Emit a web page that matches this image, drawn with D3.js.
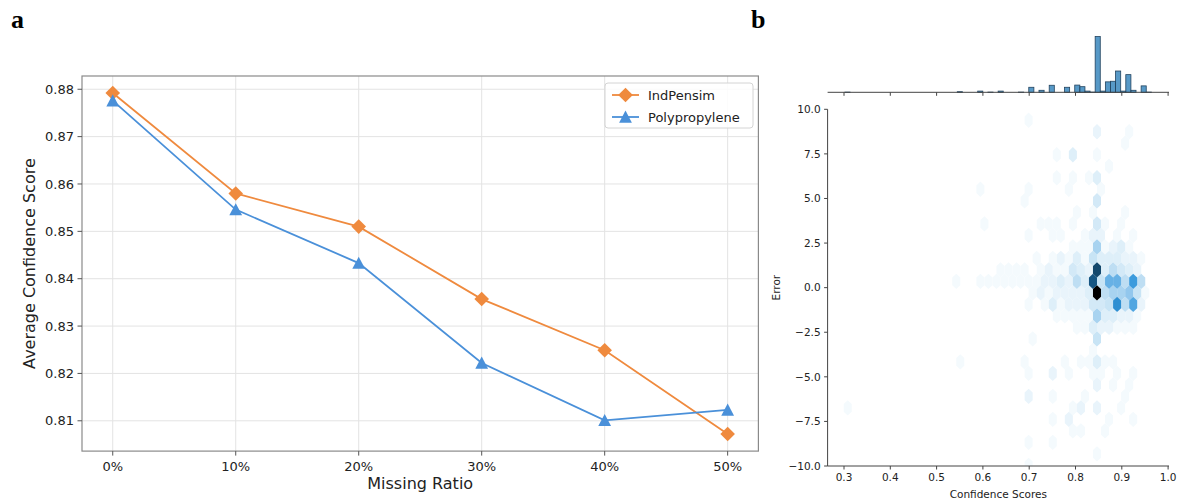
<!DOCTYPE html>
<html>
<head>
<meta charset="utf-8">
<script src="https://cdn.jsdelivr.net/npm/d3@7"></script>
<style>
  html, body { margin: 0; padding: 0; background: #fff; }
  svg { display: block; font-family: "DejaVu Sans", sans-serif; }
</style>
</head>
<body>
<svg id="fig" width="1177" height="498"></svg>
<script>
// ---------- panel a: average confidence vs. missing ratio ----------
const missingRatios = [0, 10, 20, 30, 40, 50];
const ratioLabels = ["0%", "10%", "20%", "30%", "40%", "50%"];
const indPensim = [0.8792, 0.8580, 0.8510, 0.8357, 0.8249, 0.8072];
const polypropylene = [0.8776, 0.8546, 0.8433, 0.8222, 0.8101, 0.8123];
const scoreTicks = [0.81, 0.82, 0.83, 0.84, 0.85, 0.86, 0.87, 0.88];
const seriesNames = ["IndPensim", "Polypropylene"];

// ---------- panel b: confidence vs. error (hexbin + marginal histogram) ----------
const confTicks = [0.3, 0.4, 0.5, 0.6, 0.7, 0.8, 0.9, 1.0];
const errorTicks = [-10, -7.5, -5, -2.5, 0, 2.5, 5, 7.5, 10];
const histStart = 0.302;
const histBinWidth = 0.01103;
const histCounts = [
  1, 0, 0, 0, 0, 0, 0, 0, 0, 0,
  0, 0, 0, 0, 0, 0, 0, 0, 0, 0,
  0, 0, 3, 0, 0, 0, 6, 0, 1, 0,
  6, 0, 0, 0, 1, 0, 25, 0, 10, 0,
  35, 0, 0, 25, 0, 36, 28, 6, 1, 278,
  6, 52, 55, 106, 6, 88, 10, 0, 32, 1
];
const hexExtentX = [0.308, 0.968];
const hexExtentY = [-13.19, 13.9];
const hexGridSize = 38;
// weighted observations: [confidence, error, count]
const hexSamples = [
  [0.8464,-0.29,40],[0.8464,1.00,30],[0.8464,2.29,8],[0.8464,3.58,4],[0.8464,4.87,4],[0.8464,6.16,3],[0.8464,7.45,1],[0.8464,8.74,2],[0.8464,-1.58,8],[0.8464,-2.87,5],[0.8464,-4.16,3],[0.8464,-5.45,2],[0.8464,-6.74,2],[0.8464,-9.32,1],
  [0.8377,0.355,28],[0.8377,1.645,5],[0.8377,-0.935,4],[0.8377,-2.225,3],[0.8377,2.935,2],[0.8377,-3.515,1],[0.8377,-4.805,1],[0.8377,4.225,1],
  [0.8551,0.355,5],[0.8551,-0.935,4],[0.8551,1.645,3],[0.8551,2.935,2],[0.8551,-2.225,2],[0.8551,5.515,1],[0.8551,-4.805,1],
  [0.8638,-0.29,6],[0.8638,1.00,3],[0.8638,-1.58,3],[0.8638,2.29,1],[0.8638,-4.16,1],[0.8638,-8.03,1],[0.8638,3.58,1],
  [0.8725,0.355,14],[0.8725,-0.935,5],[0.8725,1.645,3],[0.8725,-2.225,2],[0.8725,-7.385,1],[0.8725,6.805,1],
  [0.8811,-0.29,8],[0.8811,1.00,6],[0.8811,-1.58,3],[0.8811,2.29,2],[0.8811,-4.16,1],[0.8811,-5.45,1],
  [0.8898,0.355,14],[0.8898,-0.935,20],[0.8898,1.645,3],[0.8898,-2.225,1],[0.8898,2.935,1],[0.8898,-4.805,1],
  [0.8985,-0.29,8],[0.8985,1.00,4],[0.8985,-1.58,2],[0.8985,2.29,3],[0.8985,3.58,1],[0.8985,-6.74,1],
  [0.9072,0.355,6],[0.9072,-0.935,6],[0.9072,1.645,2],[0.9072,-2.225,1],[0.9072,-6.095,1],[0.9072,4.225,1],[0.9072,8.095,1],
  [0.9159,-0.29,10],[0.9159,1.00,3],[0.9159,-1.58,2],[0.9159,2.29,1],[0.9159,-5.45,1],[0.9159,8.74,1],
  [0.9246,0.355,18],[0.9246,-0.935,16],[0.9246,1.645,2],[0.9246,-2.225,1],[0.9246,2.935,1],[0.9246,-4.805,1],[0.9246,-7.385,1],
  [0.9332,-0.29,5],[0.9332,1.00,2],[0.9332,-1.58,1],
  [0.9419,0.355,6],[0.9419,-0.935,2],[0.9419,1.645,1],
  [0.9506,-0.29,1],
  [0.8290,-0.29,3],[0.8290,1.00,2],[0.8290,-1.58,1],[0.8290,2.29,1],[0.8290,-4.16,1],[0.8290,6.16,1],
  [0.8204,0.355,3],[0.8204,-0.935,2],[0.8204,1.645,1],[0.8204,-2.225,1],[0.8204,2.935,1],[0.8204,-6.095,1],
  [0.8117,-0.29,2],[0.8117,1.00,3],[0.8117,2.29,1],[0.8117,-1.58,1],[0.8117,-4.16,1],[0.8117,-6.74,2],[0.8117,-8.03,1],
  [0.8030,0.355,6],[0.8030,-0.935,2],[0.8030,1.645,3],[0.8030,-2.225,1],[0.8030,4.225,1],
  [0.7943,-0.29,2],[0.7943,1.00,4],[0.7943,2.29,1],[0.7943,3.58,1],[0.7943,6.16,1],[0.7943,7.45,3],[0.7943,-1.58,1],[0.7943,-6.74,1],[0.7943,-8.03,1],
  [0.7856,0.355,2],[0.7856,-0.935,2],[0.7856,1.645,1],[0.7856,5.515,1],[0.7856,-7.385,2],[0.7856,-4.805,1],
  [0.7769,-0.29,2],[0.7769,1.00,1],[0.7769,-1.58,1],[0.7769,-4.16,1],
  [0.7683,0.355,3],[0.7683,-0.935,1],[0.7683,1.645,2],[0.7683,2.935,1],
  [0.7596,-0.29,2],[0.7596,1.00,1],[0.7596,-1.58,1],[0.7596,3.58,1],[0.7596,6.16,1],[0.7596,7.45,1],
  [0.7509,0.355,2],[0.7509,-0.935,3],[0.7509,1.645,1],[0.7509,2.935,1],[0.7509,-4.805,2],[0.7509,-6.095,1],[0.7509,-7.385,1],[0.7509,-8.675,1],
  [0.7422,-0.29,1],[0.7422,1.00,2],[0.7422,3.58,1],
  [0.7335,0.355,2],[0.7335,-0.935,1],
  [0.7248,-0.29,2],[0.7248,1.00,1],[0.7248,3.58,1],
  [0.7162,0.355,1],[0.7162,1.645,1],
  [0.7075,-0.29,1],[0.7075,-2.87,1],
  [0.6988,0.355,1],[0.6988,-0.935,1],[0.6988,2.935,1],[0.6988,5.515,1],[0.6988,-4.805,1],[0.6988,-6.095,2],[0.6988,-8.675,1],[0.6988,-9.965,1],[0.6988,9.385,1],
  [0.6901,1.00,1],[0.6901,-4.16,1],[0.6901,4.87,1],
  [0.6814,0.355,1],[0.6727,1.00,1],[0.6640,0.355,1],[0.6554,1.00,1],
  [0.6467,0.355,1],[0.6380,1.00,1],[0.6293,0.355,1],[0.6120,0.355,1],
  [0.5946,5.515,1],[0.6033,3.58,1],[0.5946,0.355,1],[0.5512,-4.16,1],[0.5425,0.355,1],[0.308,-6.74,1]
];

const svg = d3.select("#fig");
svg.append("rect").attr("width", 1177).attr("height", 498).attr("fill", "#fff");

// panel letters
svg.append("text").attr("x", 11).attr("y", 28)
  .style("font-family", "'Liberation Serif', 'Times New Roman', serif")
  .style("font-weight", "bold").style("font-size", "26px").text("a");
svg.append("text").attr("x", 751).attr("y", 28)
  .style("font-family", "'Liberation Serif', 'Times New Roman', serif")
  .style("font-weight", "bold").style("font-size", "26px").text("b");

// ================= panel a =================
(function () {
  const left = 82, right = 758.4, top = 76, bottom = 451.1;
  const allVals = indPensim.concat(polypropylene);
  const lo = d3.min(allVals), hi = d3.max(allVals), pad = (hi - lo) * 0.05;
  const x = d3.scaleLinear().domain([-2.5, 52.5]).range([left, right]);
  const y = d3.scaleLinear().domain([lo - pad, hi + pad]).range([bottom, top]);
  const g = svg.append("g");

  // grid
  g.selectAll(".vg").data(missingRatios).enter().append("line")
    .attr("x1", d => x(d)).attr("x2", d => x(d)).attr("y1", top).attr("y2", bottom)
    .attr("stroke", "#e3e3e3").attr("stroke-width", 1);
  g.selectAll(".hg").data(scoreTicks).enter().append("line")
    .attr("x1", left).attr("x2", right).attr("y1", d => y(d)).attr("y2", d => y(d))
    .attr("stroke", "#e3e3e3").attr("stroke-width", 1);

  // spines
  g.append("rect").attr("x", left).attr("y", top).attr("width", right - left).attr("height", bottom - top)
    .attr("fill", "none").attr("stroke", "#8a8a8a").attr("stroke-width", 1.2);

  // ticks + labels
  g.selectAll(".yt").data(scoreTicks).enter().append("line")
    .attr("x1", left - 4.5).attr("x2", left).attr("y1", d => y(d)).attr("y2", d => y(d))
    .attr("stroke", "#555").attr("stroke-width", 1);
  g.selectAll(".yl").data(scoreTicks).enter().append("text")
    .attr("x", left - 8).attr("y", d => y(d)).attr("dy", "0.36em")
    .attr("text-anchor", "end").style("font-size", "13px").attr("fill", "#222")
    .text(d => d.toFixed(2));
  g.selectAll(".xt").data(missingRatios).enter().append("line")
    .attr("x1", d => x(d)).attr("x2", d => x(d)).attr("y1", bottom).attr("y2", bottom + 4.5)
    .attr("stroke", "#555").attr("stroke-width", 1);
  g.selectAll(".xl").data(missingRatios).enter().append("text")
    .attr("x", d => x(d)).attr("y", bottom + 19.5)
    .attr("text-anchor", "middle").style("font-size", "13px").attr("fill", "#222")
    .text((d, i) => ratioLabels[i]);

  // axis titles
  g.append("text").attr("x", (left + right) / 2).attr("y", 489)
    .attr("text-anchor", "middle").style("font-size", "16px").attr("fill", "#222").text("Missing Ratio");
  g.append("text").attr("transform", `translate(35,${(top + bottom) / 2}) rotate(-90)`)
    .attr("text-anchor", "middle").style("font-size", "16px").attr("fill", "#222").text("Average Confidence Score");

  const colors = ["#ef8a3e", "#4a90d9"];
  const diamond = r => `M0,${-r}L${r},0L0,${r}L${-r},0Z`;
  const triangle = r => `M0,${-r}L${r},${r * 0.9}L${-r},${r * 0.9}Z`;
  const markers = [diamond(7.3), triangle(6.4)];
  const series = [indPensim, polypropylene];

  series.forEach((vals, si) => {
    const pts = missingRatios.map((m, i) => [m, vals[i]]);
    const line = d3.line().x(d => x(d[0])).y(d => y(d[1]));
    g.append("path").datum(pts).attr("d", line).attr("fill", "none")
      .attr("stroke", colors[si]).attr("stroke-width", 1.8);
    g.selectAll(".m" + si).data(pts).enter().append("path")
      .attr("transform", d => `translate(${x(d[0])},${y(d[1])})`)
      .attr("d", markers[si]).attr("fill", colors[si]);
  });

  // legend
  const lg = g.append("g");
  lg.append("rect").attr("x", 605).attr("y", 83).attr("width", 148).attr("height", 45).attr("rx", 3)
    .attr("fill", "#fff").attr("fill-opacity", 0.85).attr("stroke", "#d4d4d4").attr("stroke-width", 1);
  seriesNames.forEach((name, i) => {
    const ly = 95 + i * 22;
    lg.append("line").attr("x1", 612).attr("x2", 639).attr("y1", ly).attr("y2", ly)
      .attr("stroke", colors[i]).attr("stroke-width", 1.8);
    lg.append("path").attr("transform", `translate(625.5,${ly})`).attr("d", markers[i]).attr("fill", colors[i]);
    lg.append("text").attr("x", 648).attr("y", ly).attr("dy", "0.36em")
      .style("font-size", "13px").attr("fill", "#222").text(name);
  });
})();

// ================= panel b =================
(function () {
  const left = 827.6, right = 1169, top = 109.3, bottom = 466;
  const x = d3.scaleLinear().domain([0.3, 1.0]).range([844, 1168.1]);
  const xDomainLeft = x.invert(left), xDomainRight = x.invert(right);
  x.domain([xDomainLeft, xDomainRight]).range([left, right]);
  const y = d3.scaleLinear().domain([-10, 10]).range([bottom, top]);
  const g = svg.append("g");

  // --- hexagonal binning of the weighted observations ---
  const nx = hexGridSize, ny = Math.floor(nx / Math.sqrt(3));
  const sx = (hexExtentX[1] - hexExtentX[0]) / nx;
  const sy = (hexExtentY[1] - hexExtentY[0]) / ny;
  const bins = new Map();
  hexSamples.forEach(([cx, ey, w]) => {
    const ix = (cx - hexExtentX[0]) / sx, iy = (ey - hexExtentY[0]) / sy;
    const ix1 = Math.round(ix), iy1 = Math.round(iy);
    const ix2 = Math.floor(ix), iy2 = Math.floor(iy);
    const d1 = (ix - ix1) ** 2 + 3 * (iy - iy1) ** 2;
    const d2 = (ix - ix2 - 0.5) ** 2 + 3 * (iy - iy2 - 0.5) ** 2;
    let key, c, e;
    if (d1 < d2) {
      key = `a${ix1},${iy1}`; c = hexExtentX[0] + ix1 * sx; e = hexExtentY[0] + iy1 * sy;
    } else {
      key = `b${ix2},${iy2}`; c = hexExtentX[0] + (ix2 + 0.5) * sx; e = hexExtentY[0] + (iy2 + 0.5) * sy;
    }
    if (!bins.has(key)) bins.set(key, { c, e, n: 0 });
    bins.get(key).n += w;
  });
  const cells = Array.from(bins.values()).sort((a, b) => a.n - b.n);
  const maxN = d3.max(cells, d => d.n);

  // light-to-dark ramp built on the base blue
  const base = d3.hsl("#1f77b4");
  const stops = d3.range(12).map(i => d3.rgb(d3.hsl(base.h, base.s, 1 - i / 11)).formatHex());
  const ramp = d3.piecewise(d3.interpolateRgb, stops);

  const hexPath = d => {
    const verts = [[0.5, -0.5], [0.5, 0.5], [0, 1], [-0.5, 0.5], [-0.5, -0.5], [0, -1]]
      .map(([a, b]) => [x(d.c + a * sx), y(d.e + b * sy / 3)]);
    return "M" + verts.map(v => v.join(",")).join("L") + "Z";
  };

  svg.append("clipPath").attr("id", "jointClip").append("rect")
    .attr("x", left).attr("y", top).attr("width", right - left).attr("height", bottom - top);
  g.append("g").attr("clip-path", "url(#jointClip)")
    .selectAll("path").data(cells).enter().append("path")
    .attr("d", hexPath)
    .attr("fill", d => ramp(d.n / maxN));

  // joint axes
  g.append("line").attr("x1", left).attr("x2", left).attr("y1", top).attr("y2", bottom)
    .attr("stroke", "#444").attr("stroke-width", 1);
  g.append("line").attr("x1", left).attr("x2", right).attr("y1", bottom).attr("y2", bottom)
    .attr("stroke", "#444").attr("stroke-width", 1);
  g.selectAll(".yt").data(errorTicks).enter().append("line")
    .attr("x1", left - 3.5).attr("x2", left).attr("y1", d => y(d)).attr("y2", d => y(d))
    .attr("stroke", "#444").attr("stroke-width", 1);
  g.selectAll(".yl").data(errorTicks).enter().append("text")
    .attr("x", left - 7).attr("y", d => y(d)).attr("dy", "0.36em")
    .attr("text-anchor", "end").style("font-size", "10.5px").attr("fill", "#222")
    .text(d => (d < 0 ? "\u2212" : "") + Math.abs(d).toFixed(1));
  g.selectAll(".xt").data(confTicks).enter().append("line")
    .attr("x1", d => x(d)).attr("x2", d => x(d)).attr("y1", bottom).attr("y2", bottom + 3.5)
    .attr("stroke", "#444").attr("stroke-width", 1);
  g.selectAll(".xl").data(confTicks).enter().append("text")
    .attr("x", d => x(d)).attr("y", bottom + 15)
    .attr("text-anchor", "middle").style("font-size", "10.5px").attr("fill", "#222")
    .text(d => d.toFixed(1));
  g.append("text").attr("x", (left + right) / 2).attr("y", 497.5)
    .attr("text-anchor", "middle").style("font-size", "10.5px").attr("fill", "#222").text("Confidence Scores");
  g.append("text").attr("transform", `translate(780,${(top + bottom) / 2}) rotate(-90)`)
    .attr("text-anchor", "middle").style("font-size", "10.5px").attr("fill", "#222").text("Error");

  // marginal histogram of confidence
  const hBase = 92.3;
  const hy = d3.scaleLinear().domain([0, d3.max(histCounts) * 1.05]).range([hBase, 33.7]);
  const histBins = histCounts.map((n, i) => ({ x0: histStart + i * histBinWidth, x1: histStart + (i + 1) * histBinWidth, n }))
    .filter(d => d.n > 0);
  g.selectAll(".hb").data(histBins).enter().append("rect")
    .attr("x", d => x(d.x0)).attr("width", d => x(d.x1) - x(d.x0))
    .attr("y", d => hy(d.n)).attr("height", d => hBase - hy(d.n))
    .attr("fill", "#1f77b4").attr("fill-opacity", 0.75)
    .attr("stroke", "#22435e").attr("stroke-width", 0.8);
  g.append("line").attr("x1", left).attr("x2", right).attr("y1", hBase).attr("y2", hBase)
    .attr("stroke", "#444").attr("stroke-width", 1);
  g.selectAll(".mt").data(confTicks).enter().append("line")
    .attr("x1", d => x(d)).attr("x2", d => x(d)).attr("y1", hBase).attr("y2", hBase + 3.5)
    .attr("stroke", "#444").attr("stroke-width", 1);
})();
</script>
</body>
</html>
